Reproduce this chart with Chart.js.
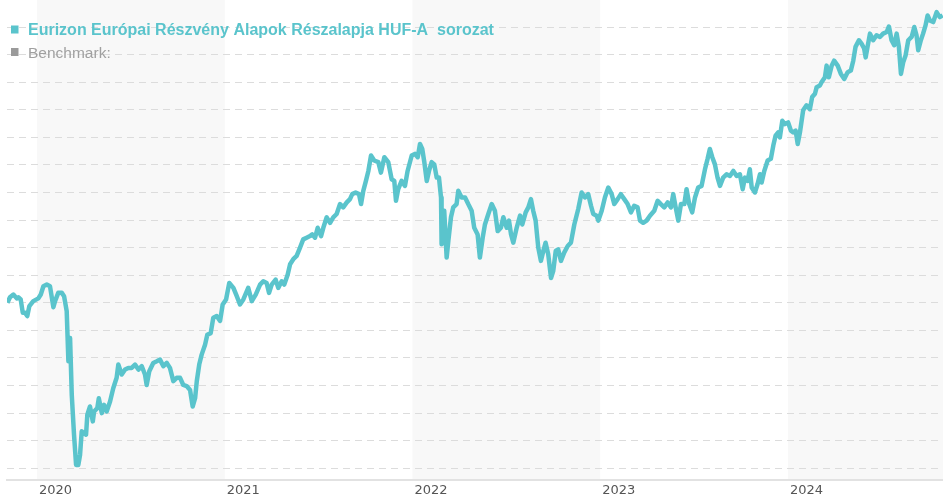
<!DOCTYPE html>
<html>
<head>
<meta charset="utf-8">
<script src="https://cdn.jsdelivr.net/npm/chart.js@4.4.1/dist/chart.umd.min.js"></script>
<style>
  html, body { margin: 0; padding: 0; background: #fff; }
</style>
</head>
<body>
<canvas id="perfChart" width="943" height="500"></canvas>
<script>
// --- Series labels ---
const fundLabel = 'Eurizon Európai Részvény Alapok Részalapja HUF-A  sorozat';
const benchLabel = 'Benchmark:';

// --- Axis ticks / shaded years ---
const yearTicks = [2020, 2021, 2022, 2023, 2024];
const shadedYears = [2020, 2022, 2024];

// --- Fund series: time (decimal year) and index value ---
const dates = [
  2019.842, 2019.856, 2019.874, 2019.892, 2019.900, 2019.913, 2019.924, 2019.936, 2019.948, 2019.959, 2019.980,
  2020.007, 2020.020, 2020.034, 2020.052, 2020.069, 2020.087, 2020.096, 2020.113, 2020.132, 2020.144,
  2020.158, 2020.167, 2020.176, 2020.185, 2020.197, 2020.208, 2020.220, 2020.229, 2020.238, 2020.250,
  2020.261, 2020.268, 2020.282, 2020.297, 2020.304, 2020.321, 2020.329, 2020.345, 2020.357, 2020.371,
  2020.389, 2020.406, 2020.424, 2020.433, 2020.451, 2020.469, 2020.486, 2020.504, 2020.522, 2020.540,
  2020.558, 2020.575, 2020.584, 2020.598, 2020.619, 2020.638, 2020.655, 2020.673, 2020.691, 2020.708,
  2020.726, 2020.744, 2020.762, 2020.779, 2020.797, 2020.815, 2020.829, 2020.842, 2020.851, 2020.864,
  2020.877, 2020.895, 2020.907, 2020.925, 2020.939, 2020.957, 2020.975, 2020.989,
  2021.007, 2021.024, 2021.046, 2021.064, 2021.081, 2021.099, 2021.125, 2021.144, 2021.165, 2021.188,
  2021.205, 2021.223, 2021.236, 2021.250, 2021.271, 2021.285, 2021.303, 2021.317, 2021.335, 2021.348,
  2021.365, 2021.383, 2021.401, 2021.418, 2021.436, 2021.454, 2021.466, 2021.481, 2021.495, 2021.513,
  2021.525, 2021.543, 2021.561, 2021.578, 2021.596, 2021.614, 2021.631, 2021.650, 2021.667, 2021.679,
  2021.697, 2021.715, 2021.726, 2021.738, 2021.752, 2021.765, 2021.779, 2021.796, 2021.818, 2021.832,
  2021.850, 2021.871, 2021.889, 2021.903, 2021.912, 2021.924, 2021.942, 2021.960, 2021.974, 2021.996,
  2022.013, 2022.028, 2022.040, 2022.052, 2022.063, 2022.076, 2022.088, 2022.102, 2022.116, 2022.129,
  2022.141, 2022.152, 2022.155, 2022.169, 2022.182, 2022.191, 2022.205, 2022.217, 2022.235, 2022.244,
  2022.262, 2022.280, 2022.297, 2022.315, 2022.329, 2022.347, 2022.359, 2022.374, 2022.386, 2022.404,
  2022.422, 2022.439, 2022.454, 2022.471, 2022.484, 2022.502, 2022.514, 2022.525, 2022.537, 2022.555,
  2022.573, 2022.585, 2022.603, 2022.617, 2022.631, 2022.643, 2022.656, 2022.670, 2022.684, 2022.697,
  2022.709, 2022.723, 2022.738, 2022.750, 2022.763, 2022.776, 2022.791, 2022.808, 2022.827, 2022.844,
  2022.862, 2022.883, 2022.901, 2022.919, 2022.936, 2022.951, 2022.963, 2022.981, 2022.990,
  2023.008, 2023.025, 2023.043, 2023.061, 2023.075, 2023.093, 2023.110, 2023.128, 2023.146, 2023.164,
  2023.181, 2023.199, 2023.212, 2023.229, 2023.247, 2023.265, 2023.288, 2023.306, 2023.323, 2023.341,
  2023.359, 2023.377, 2023.389, 2023.402, 2023.416, 2023.430, 2023.448, 2023.460, 2023.474, 2023.490,
  2023.505, 2023.522, 2023.540, 2023.558, 2023.572, 2023.584, 2023.597, 2023.611, 2023.625, 2023.638,
  2023.655, 2023.673, 2023.691, 2023.709, 2023.727, 2023.744, 2023.759, 2023.771, 2023.785, 2023.797,
  2023.807, 2023.824, 2023.838, 2023.851, 2023.860, 2023.874, 2023.892, 2023.909, 2023.922, 2023.934,
  2023.948, 2023.957, 2023.970, 2023.984,
  2024.001, 2024.016, 2024.028, 2024.041, 2024.052, 2024.064, 2024.081, 2024.099, 2024.117, 2024.129,
  2024.144, 2024.153, 2024.170, 2024.179, 2024.197, 2024.206, 2024.218, 2024.233, 2024.246, 2024.265,
  2024.282, 2024.300, 2024.318, 2024.335, 2024.348, 2024.360, 2024.378, 2024.392, 2024.406, 2024.414,
  2024.424, 2024.437, 2024.454, 2024.472, 2024.490, 2024.507, 2024.526, 2024.538, 2024.552, 2024.566,
  2024.579, 2024.591, 2024.602, 2024.614, 2024.627, 2024.641, 2024.659, 2024.673, 2024.685, 2024.694,
  2024.708, 2024.720, 2024.733, 2024.744, 2024.756, 2024.774, 2024.792, 2024.809, 2024.824
];
const values = [
  100.0, 101.0, 101.5, 100.8, 101.0, 100.6, 98.2, 98.2, 97.6, 99.4, 100.3,
  100.8, 101.5, 103.0, 103.3, 103.0, 99.2, 100.3, 101.8, 101.8, 101.2,
  98.5, 89.4, 93.6, 83.3, 76.1, 70.6, 70.6, 72.4, 76.7, 76.4,
  76.1, 79.7, 81.2, 78.5, 80.3, 80.9, 82.7, 80.0, 81.5, 80.3,
  82.1, 84.5, 86.4, 88.8, 87.0, 87.9, 88.2, 88.2, 88.8, 87.9,
  88.5, 87.0, 85.1, 87.6, 89.1, 89.4, 89.7, 88.5, 89.1, 88.2,
  85.8, 86.4, 86.4, 85.1, 84.9, 84.2, 81.2, 82.7, 85.8, 88.8,
  90.6, 92.4, 94.2, 94.5, 97.3, 97.6, 96.7, 99.7,
  100.6, 103.6, 102.7, 101.2, 99.7, 100.6, 102.7, 100.3, 101.5, 103.3,
  103.9, 103.6, 101.8, 103.3, 104.2, 102.7, 103.9, 103.3, 105.1, 107.0,
  107.9, 108.5, 110.0, 111.5, 111.8, 112.1, 112.4, 111.8, 113.6, 112.1,
  113.6, 115.5, 114.5, 115.5, 116.1, 117.9, 117.3, 118.2, 118.8, 119.7,
  120.0, 119.7, 117.9, 120.3, 122.1, 123.9, 126.7, 125.8, 125.5, 123.6,
  126.4, 125.5, 122.4, 122.1, 118.5, 120.6, 122.1, 121.2, 123.9, 126.7,
  127.0, 126.4, 128.8, 127.9, 125.5, 122.1, 123.9, 125.5, 125.1, 122.7,
  122.7, 119.1, 110.6, 116.7, 108.2, 111.2, 115.5, 117.3, 117.9, 120.3,
  119.1, 119.1, 117.9, 116.7, 113.6, 112.4, 108.2, 111.8, 114.2, 116.1,
  117.9, 116.7, 113.0, 113.6, 115.5, 113.6, 114.9, 112.4, 110.9, 113.6,
  115.8, 114.2, 116.4, 117.3, 118.8, 116.7, 114.9, 110.0, 107.6, 109.4,
  110.9, 108.8, 104.5, 105.8, 109.4, 109.7, 107.6, 109.1, 110.3, 110.9,
  114.2, 117.0, 120.0, 119.1, 119.7, 117.6, 116.1, 115.8, 114.9,
  116.7, 119.1, 120.9, 119.7, 117.9, 118.8, 119.7, 118.8, 117.9, 116.4,
  117.6, 117.3, 114.9, 114.5, 114.9, 115.8, 116.7, 118.5, 117.9, 117.3,
  118.2, 117.3, 119.7, 117.3, 114.9, 117.9, 117.9, 120.6, 117.9, 116.4,
  119.1, 120.9, 121.2, 124.2, 126.1, 127.9, 126.4, 125.1, 122.7, 121.2,
  122.7, 123.3, 123.0, 123.9, 123.0, 123.3, 120.6, 122.7, 122.1, 124.2,
  120.9, 120.0, 121.5, 123.3, 121.8, 123.9, 125.8, 126.1, 128.5, 130.3,
  130.9, 130.0, 133.0, 132.4,
  132.7, 131.2, 130.9, 131.2, 128.8, 130.9, 134.9, 135.8, 135.1, 137.3,
  137.9, 139.1, 139.4, 140.0, 140.9, 143.0, 140.9, 143.0, 143.9, 143.0,
  141.5, 140.6, 141.8, 142.1, 143.9, 146.4, 147.6, 147.0, 146.1, 144.5,
  146.4, 148.8, 147.6, 148.5, 148.2, 148.8, 149.1, 150.1, 147.6, 146.7,
  148.8, 146.4, 141.5, 143.6, 144.9, 147.6, 148.2, 150.0, 148.5, 145.8,
  147.6, 148.8, 150.3, 152.1, 151.2, 150.9, 152.7, 151.8, 152.1
];

const TEAL = '#5ac4cc';
const GREY = '#9a9a9a';

// --- Alternate year shading, under the grid ---
const yearBands = {
  id: 'yearBands',
  beforeDraw(chart) {
    const { ctx, chartArea: a, scales: { x } } = chart;
    ctx.save();
    ctx.fillStyle = '#f8f8f8';
    shadedYears.forEach(yr => {
      const x0 = Math.max(x.getPixelForValue(yr), a.left);
      const x1 = Math.min(x.getPixelForValue(yr + 1), a.right);
      if (x1 > x0) ctx.fillRect(x0, a.top, x1 - x0, a.bottom - a.top);
    });
    ctx.restore();
  }
};

// --- Legend drawn in the top-left corner of the plot ---
const cornerLegend = {
  id: 'cornerLegend',
  afterDraw(chart) {
    const ctx = chart.ctx;
    ctx.save();
    ctx.textBaseline = 'alphabetic';
    chart.data.datasets.forEach((ds, i) => {
      const baseY = 35 + i * 22.5;
      ctx.fillStyle = ds.borderColor;
      ctx.fillRect(11, baseY - 9.5, 7.5, 8);
      ctx.font = i === 0 ? 'bold 16px "Liberation Sans", Arial, sans-serif'
                         : '15.5px "Liberation Sans", Arial, sans-serif';
      ctx.fillStyle = i === 0 ? TEAL : '#a0a0a0';
      ctx.fillText(ds.label, 28, baseY);
    });
    ctx.restore();
  }
};

const ctx = document.getElementById('perfChart').getContext('2d');
new Chart(ctx, {
  type: 'line',
  data: {
    datasets: [
      {
        label: fundLabel,
        data: dates.map((t, i) => ({ x: t, y: values[i] })),
        borderColor: TEAL,
        borderWidth: 4.5,
        pointRadius: 0,
        tension: 0,
        fill: false,
        borderJoinStyle: 'round'
      },
      { label: benchLabel, data: [], borderColor: GREY }
    ]
  },
  options: {
    responsive: false,
    animation: false,
    layout: { padding: { left: 7, right: 0, top: 0, bottom: 0 } },
    plugins: { legend: { display: false }, tooltip: { enabled: false } },
    scales: {
      x: {
        type: 'linear',
        min: 2019.84,
        max: 2024.826,
        afterBuildTicks: scale => { scale.ticks = yearTicks.map(v => ({ value: v })); },
        grid: { display: false, drawTicks: false },
        border: { display: true, color: '#e2e2e2', width: 2 },
        ticks: {
          align: 'start',
          labelOffset: 2,
          padding: 2,
          maxRotation: 0,
          autoSkip: false,
          color: '#555',
          font: { family: 'DejaVu Sans', size: 13 },
          callback: v => String(v)
        }
      },
      y: {
        min: 67.8,
        max: 154.9,
        ticks: { display: false, stepSize: 5, includeBounds: false },
        grid: { color: '#dcdcdc', drawTicks: false, tickLength: 0 },
        border: { display: false, dash: [7, 5] }
      }
    }
  },
  plugins: [yearBands, cornerLegend]
});
</script>
</body>
</html>
